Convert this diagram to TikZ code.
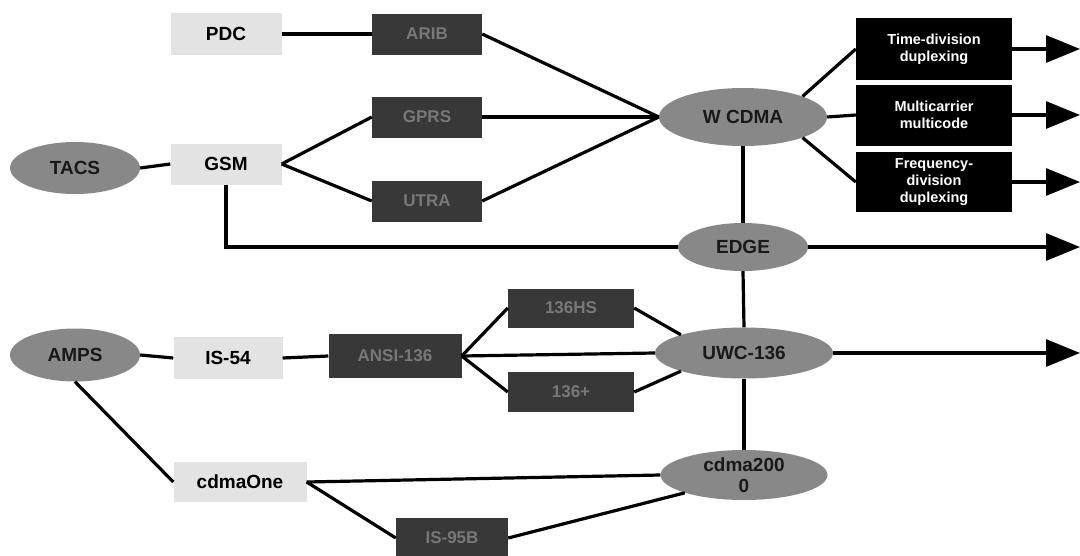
\documentclass[tikz,border=0pt]{standalone}
\usepackage{fontspec}
\setmainfont{Liberation Sans}
\usetikzlibrary{shapes.geometric,arrows.meta}
\definecolor{ovalgray}{HTML}{888888}
\definecolor{paleface}{HTML}{E3E3E3}
\definecolor{darkface}{HTML}{383838}
\definecolor{darkink}{HTML}{787878}
\begin{document}
\begin{tikzpicture}[x=1pt,y=-1pt,
  link/.style={line width=3.2pt},
  flow/.style={link,-{Triangle[length=34pt,width=27pt]}},
  oval/.style={ellipse,fill=ovalgray,inner sep=0pt,text=black!90,
    font=\bfseries\fontsize{19}{21}\selectfont,align=center},
  palebox/.style={rectangle,fill=paleface,inner sep=0pt,text=black,
    font=\bfseries\fontsize{19}{21}\selectfont},
  darkbox/.style={rectangle,fill=darkface,inner sep=0pt,text=darkink,
    font=\bfseries\fontsize{17}{19}\selectfont},
  blackbox/.style={rectangle,fill=black,inner sep=0pt,text=white,align=center,
    font=\bfseries\fontsize{14.5}{17}\selectfont,
    minimum width=156pt}
]
\useasboundingbox (0,0) rectangle (1080,555);
\coordinate (rim) at (1080,0);

% upper family: GSM / PDC line
\node[palebox,minimum width=111pt,minimum height=42pt] (pdc) at (226,34) {PDC};
\node[darkbox,minimum width=110pt,minimum height=41pt] (arib) at (427,34) {ARIB};
\node[darkbox,minimum width=110pt,minimum height=41pt] (gprs) at (427,117) {GPRS};
\node[darkbox,minimum width=110pt,minimum height=41pt] (utra) at (427,201) {UTRA};
\node[oval,minimum width=130pt,minimum height=52pt] (tacs) at (75,168) {TACS};
\node[palebox,minimum width=111pt,minimum height=41pt] (gsm) at (226,164) {GSM};
\node[oval,minimum width=168pt,minimum height=58pt] (wcdma) at (743,117) {W CDMA};
\node[oval,minimum width=130pt,minimum height=48pt] (edge) at (743,247) {EDGE};
\node[blackbox,minimum height=62pt] (tdd) at (934,49) {Time-division\\duplexing};
\node[blackbox,minimum height=61pt] (mcmc) at (934,115) {Multicarrier\\multicode};
\node[blackbox,minimum height=60pt] (fdd) at (934,182) {Frequency-\\division\\duplexing};

% lower family: AMPS line
\node[oval,minimum width=130pt,minimum height=53pt] (amps) at (75,355) {AMPS};
\node[palebox,minimum width=109pt,minimum height=42pt] (is54) at (228,358) {IS-54};
\node[darkbox,minimum width=133pt,minimum height=44pt] (ansi) at (395,356) {ANSI-136};
\node[darkbox,minimum width=126pt,minimum height=39pt] (hs) at (571,308) {136HS};
\node[darkbox,minimum width=126pt,minimum height=40pt] (plus) at (571,392) {136+};
\node[oval,minimum width=178pt,minimum height=51pt] (uwc) at (744,353) {UWC-136};
\node[palebox,minimum width=133pt,minimum height=40pt] (one) at (240,482) {cdmaOne};
\node[darkbox,minimum width=112pt,minimum height=40pt] (is95) at (452,538) {IS-95B};
\node[oval,minimum width=167pt,minimum height=50pt] (ctwo) at (744,475) {cdma200\\0};

% connectors, upper part
\draw[link] (pdc.east) -- (arib.west);
\draw[link] (tacs.east) -- (gsm.west);
\draw[link] (gsm.east) -- (gprs.west);
\draw[link] (gsm.east) -- (utra.west);
\draw[link] (arib.east) -- (wcdma.west);
\draw[link] (gprs.east) -- (wcdma.west);
\draw[link] (utra.east) -- (wcdma.west);
\draw[link] (wcdma.north east) -- (tdd.west);
\draw[link] (wcdma.east) -- (mcmc.west);
\draw[link] (wcdma.south east) -- (fdd.west);
\draw[flow] (tdd.east) -- (tdd.east -| rim);
\draw[flow] (mcmc.east) -- (mcmc.east -| rim);
\draw[flow] (fdd.east) -- (fdd.east -| rim);
\draw[link] (gsm.south) |- (edge.west);
\draw[link] (wcdma.south) -- (edge.north);
\draw[flow] (edge.east) -- (edge.east -| rim);

% connectors, lower part
\draw[link] (edge.south) -- (uwc.north);
\draw[link] (uwc.south) -- (ctwo.north);
\draw[link] (amps.east) -- (is54.west);
\draw[link] (is54.east) -- (ansi.west);
\draw[link] (ansi.east) -- (hs.west);
\draw[link] (ansi.east) -- (plus.west);
\draw[link] (ansi.east) -- (uwc.west);
\draw[link] (hs.east) -- (uwc.north west);
\draw[link] (plus.east) -- (uwc.south west);
\draw[flow] (uwc.east) -- (uwc.east -| rim);
\draw[link] (amps.south) -- (one.west);
\draw[link] (one.east) -- (ctwo.west);
\draw[link] (one.east) -- (is95.west);
\draw[link] (is95.east) -- (ctwo.south west);
\end{tikzpicture}
\end{document}
